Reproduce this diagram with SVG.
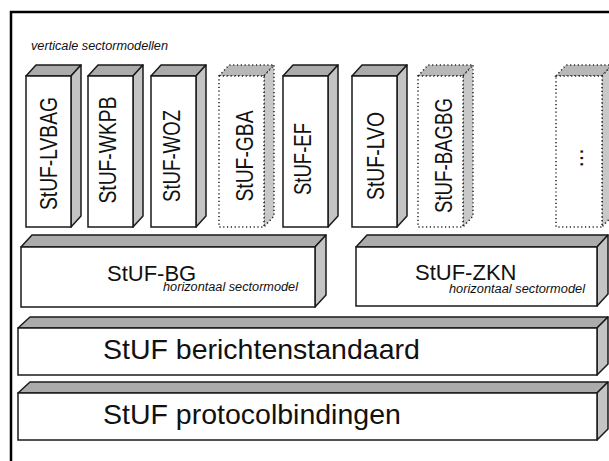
<svg xmlns="http://www.w3.org/2000/svg" width="609" height="461" viewBox="0 0 609 461">
<style>
.bg{fill:#ffffff}
.frame{fill:none;stroke:#000;stroke-width:2.5}
.front{fill:#ffffff;stroke:#1a1a1a;stroke-width:1.5}
.top{fill:#ababab;stroke:#1a1a1a;stroke-width:1.5;stroke-linejoin:round}
.side{fill:#c4c4c4;stroke:#1a1a1a;stroke-width:1.5;stroke-linejoin:round}
.dfront{fill:#ffffff;stroke:#222;stroke-width:1.5;stroke-dasharray:1.2 2.6}
.dtop{fill:#b8b8b8;stroke:#222;stroke-width:1.5;stroke-dasharray:1.2 2.6}
.dside{fill:#c8c8c8;stroke:#222;stroke-width:1.5;stroke-dasharray:1.2 2.6}
.vt{font-family:"Liberation Sans",Arial,sans-serif;font-size:23px;fill:#111;text-anchor:middle}
.big{font-family:"Liberation Sans",Arial,sans-serif;font-size:22px;fill:#111}
.huge{font-family:"Liberation Sans",Arial,sans-serif;font-size:28.5px;fill:#111}
.it{font-family:"Liberation Sans",Arial,sans-serif;font-style:italic;font-size:12.5px;fill:#111}
</style>
<rect class="bg" x="0" y="0" width="609" height="461"/>
<rect class="frame" x="11" y="12" width="620" height="470"/>
<text class="it" x="31" y="50" textLength="137" lengthAdjust="spacingAndGlyphs">verticale sectormodellen</text>

<g id="stuf-lvbag">
<polygon class="top" points="26,76 36,65 81,65 71,76"/>
<polygon class="side" points="71,76 81,65 81,216 71,227"/>
<rect class="front" x="26" y="76" width="45" height="151"/>
<text class="vt" transform="translate(57.2,153.5) rotate(-90)" textLength="113" lengthAdjust="spacingAndGlyphs">StUF-LVBAG</text>
</g>
<g id="stuf-wkpb">
<polygon class="top" points="88,76 98,65 143,65 133,76"/>
<polygon class="side" points="133,76 143,65 143,216 133,227"/>
<rect class="front" x="88" y="76" width="45" height="151"/>
<text class="vt" transform="translate(116.2,150) rotate(-90)" textLength="107" lengthAdjust="spacingAndGlyphs">StUF-WKPB</text>
</g>
<g id="stuf-woz">
<polygon class="top" points="151,76 161,65 206,65 196,76"/>
<polygon class="side" points="196,76 206,65 206,216 196,227"/>
<rect class="front" x="151" y="76" width="45" height="151"/>
<text class="vt" transform="translate(179.9,156) rotate(-90)" textLength="92" lengthAdjust="spacingAndGlyphs">StUF-WOZ</text>
</g>
<g id="stuf-gba">
<polygon class="dtop" points="219,76 229,65 274,65 264,76"/>
<polygon class="dside" points="264,76 274,65 274,216 264,227"/>
<rect class="dfront" x="219" y="76" width="45" height="151"/>
<text class="vt" transform="translate(252.9,156) rotate(-90)" textLength="91" lengthAdjust="spacingAndGlyphs">StUF-GBA</text>
</g>
<g id="stuf-ef">
<polygon class="top" points="283,76 293,65 338,65 328,76"/>
<polygon class="side" points="328,76 338,65 338,216 328,227"/>
<rect class="front" x="283" y="76" width="45" height="151"/>
<text class="vt" transform="translate(310.7,159) rotate(-90)" textLength="72" lengthAdjust="spacingAndGlyphs">StUF-EF</text>
</g>
<g id="stuf-lvo">
<polygon class="top" points="352,76 362,65 407,65 397,76"/>
<polygon class="side" points="397,76 407,65 407,216 397,227"/>
<rect class="front" x="352" y="76" width="45" height="151"/>
<text class="vt" transform="translate(383.9,156) rotate(-90)" textLength="88" lengthAdjust="spacingAndGlyphs">StUF-LVO</text>
</g>
<g id="stuf-bagbg">
<polygon class="dtop" points="418,76 428,65 473,65 463,76"/>
<polygon class="dside" points="463,76 473,65 473,216 463,227"/>
<rect class="dfront" x="418" y="76" width="45" height="151"/>
<text class="vt" transform="translate(451.5,155.5) rotate(-90)" textLength="115" lengthAdjust="spacingAndGlyphs">StUF-BAGBG</text>
</g>
<g id="more">
<polygon class="dtop" points="556,76 566,65 612,65 602,76"/>
<polygon class="dside" points="602,76 612,65 612,216 602,227"/>
<rect class="dfront" x="556" y="76" width="46" height="151"/>
<text class="vt" transform="translate(582.5,158) rotate(-90)">...</text>
</g>

<g id="stuf-bg">
<polygon class="top" points="21,247 32,235 326,235 315,247"/>
<polygon class="side" points="315,247 326,235 326,295 315,307"/>
<rect class="front" x="21" y="247" width="294" height="60"/>
<text class="big" x="107" y="281">StUF-BG</text>
<text class="it" x="163" y="291" textLength="135" lengthAdjust="spacingAndGlyphs">horizontaal sectormodel</text>
</g>
<g id="stuf-zkn">
<polygon class="top" points="356,247 367,235 608,235 597,247"/>
<polygon class="side" points="597,247 608,235 608,294 597,306"/>
<rect class="front" x="356" y="247" width="241" height="59"/>
<text class="big" x="415" y="280">StUF-ZKN</text>
<text class="it" x="449" y="292.5" textLength="136" lengthAdjust="spacingAndGlyphs">horizontaal sectormodel</text>
</g>
<g id="stuf-berichtenstandaard">
<polygon class="top" points="18,328 30,317 608,317 597,328"/>
<polygon class="side" points="597,328 608,317 608,364 597,375"/>
<rect class="front" x="18" y="328" width="579" height="47"/>
<text class="huge" x="103" y="359">StUF berichtenstandaard</text>
</g>
<g id="stuf-protocolbindingen">
<polygon class="top" points="18,393 30,382 608,382 597,393"/>
<polygon class="side" points="597,393 608,382 608,429 597,440"/>
<rect class="front" x="18" y="393" width="579" height="47"/>
<text class="huge" x="103" y="424">StUF protocolbindingen</text>
</g>
<g id="connectors"/>
</svg>
